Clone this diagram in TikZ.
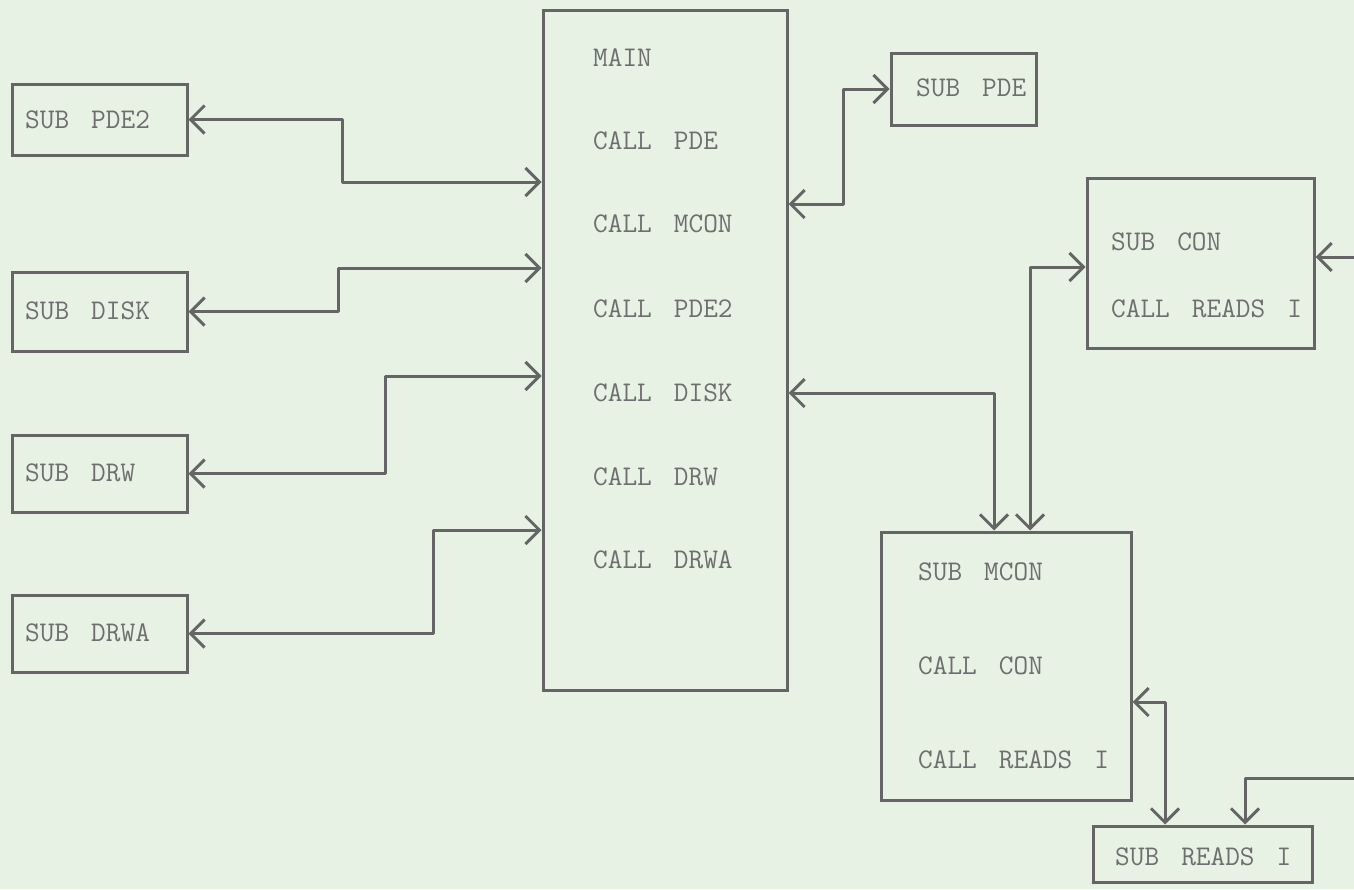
\documentclass[tikz,border=0pt]{standalone}
\usepackage{fontspec}
\newfontfamily\twfont[WordSpace=1.5]{Latin Modern Mono}
\usetikzlibrary{arrows.meta}
\definecolor{bgc}{HTML}{E7F2E5}
\definecolor{linec}{HTML}{656565}
\definecolor{txtc}{HTML}{6E6E6E}
\begin{document}
\begin{tikzpicture}[x=1pt,y=-1pt,
  box/.style={draw=linec, line width=3pt, inner sep=0pt},
  lbl/.style={anchor=west, inner sep=0pt, text=txtc, font=\fontsize{28.5}{31}\selectfont\twfont},
  conn/.style={draw=linec, line width=3pt, line join=round, line cap=round,
    {Straight Barb[length=14pt,width=28pt]}-{Straight Barb[length=14pt,width=28pt]}}]
\path[use as bounding box, fill=bgc] (0,0) rectangle (1354,889);
% boxes
\node[box, minimum width=175pt, minimum height=71pt] (pde2) at (99.5,119.5) {};
\node[box, minimum width=175pt, minimum height=79pt] (disk) at (99.5,311.5) {};
\node[box, minimum width=175pt, minimum height=77pt] (drw) at (99.5,473.5) {};
\node[box, minimum width=175pt, minimum height=77pt] (drwa) at (99.5,633.5) {};
\node[box, minimum width=244pt, minimum height=680pt] (main) at (665,350) {};
\node[box, minimum width=145pt, minimum height=72pt] (pde) at (963.5,89) {};
\node[box, minimum width=227pt, minimum height=170pt] (con) at (1200.5,263) {};
\node[box, minimum width=250pt, minimum height=268pt] (mcon) at (1006,666) {};
\node[box, minimum width=219pt, minimum height=56pt] (reads) at (1202.5,854) {};
% texts
\node[lbl] (tpde2) at (25,120) {SUB PDE2};
\node[lbl] (tdisk) at (25,311) {SUB DISK};
\node[lbl] (tdrw) at (25,473) {SUB DRW};
\node[lbl] (tdrwa) at (25,633) {SUB DRWA};
\node[lbl] (m1) at (593,58) {MAIN};
\node[lbl] (m2) at (593,141) {CALL PDE};
\node[lbl] (m3) at (593,224) {CALL MCON};
\node[lbl] (m4) at (593,309) {CALL PDE2};
\node[lbl] (m5) at (593,393) {CALL DISK};
\node[lbl] (m6) at (593,477) {CALL DRW};
\node[lbl] (m7) at (593,560) {CALL DRWA};
\node[lbl] (tpde) at (916,88) {SUB PDE};
\node[lbl] (c1) at (1111,242) {SUB CON};
\node[lbl] (c2) at (1111,309) {CALL READS I};
\node[lbl] (mc1) at (918,572) {SUB MCON};
\node[lbl] (mc2) at (918,666) {CALL CON};
\node[lbl] (mc3) at (918,760) {CALL READS I};
\node[lbl] (tr) at (1115,857) {SUB READS I};
% connectors
\draw[conn] (pde2.east) -- (342,119.5) -- (342,182) -- (main.west |- 0,182);
\draw[conn] (disk.east) -- (338,311.5) -- (338,268) -- (main.west |- 0,268);
\draw[conn] (drw.east) -- (385,473.5) -- (385,376) -- (main.west |- 0,376);
\draw[conn] (drwa.east) -- (433,633.5) -- (433,530) -- (main.west |- 0,530);
\draw[conn] (main.east |- 0,204) -- (843,204) -- (843,89) -- (pde.west);
\draw[conn] (main.east |- 0,393) -- (994,393) -- (mcon.north -| 994,0);
\draw[conn] (con.west |- 0,267) -- (1030,267) -- (mcon.north -| 1030,0);
\draw[conn] (mcon.east |- 0,702) -- (1165,702) -- (reads.north -| 1165,0);
\draw[conn] (con.east |- 0,257) -- (1368,257) -- (1368,778) -- (1245,778) -- (reads.north -| 1245,0);
\end{tikzpicture}
\end{document}
